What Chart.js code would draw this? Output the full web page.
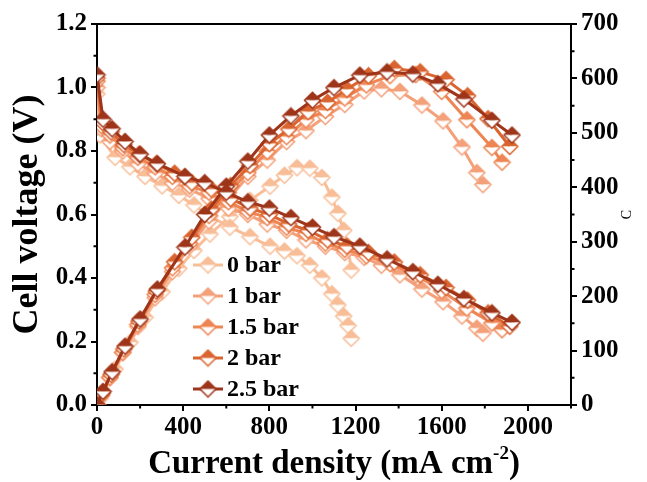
<!DOCTYPE html>
<html><head><meta charset="utf-8">
<script src="https://cdn.jsdelivr.net/npm/chart.js@4/dist/chart.umd.min.js"></script>
<style>html,body{margin:0;padding:0;background:#fff}#wrap{width:647px;height:482px;position:relative}</style>
</head><body><div id="wrap"><canvas id="c" width="647" height="482"></canvas></div>
<script>
// ---- data ----
const seriesNames = ['0 bar', '1 bar', '1.5 bar', '2 bar', '2.5 bar'];
const xTicks = [0, 400, 800, 1200, 1600, 2000];
const yTicks = [0, 0.2, 0.4, 0.6, 0.8, 1.0, 1.2];
const y1Ticks = [0, 100, 200, 300, 400, 500, 600, 700];

const current0 = [0, 14, 84, 153, 223, 302, 380, 450, 524, 617, 710, 803, 870, 928, 988, 1044, 1090, 1118, 1145, 1165, 1180];
const voltage0 = [0.98, 0.85, 0.78, 0.75, 0.72, 0.69, 0.66, 0.63, 0.595, 0.56, 0.53, 0.50, 0.485, 0.47, 0.44, 0.40, 0.35, 0.315, 0.28, 0.25, 0.21];
const power0   = [0, 12, 66, 115, 161, 208, 251, 284, 314, 346, 376, 402, 422, 436, 435, 418, 382, 352, 321, 291, 248];

const current1 = [0, 20, 60, 120, 190, 270, 350, 430, 520, 610, 700, 790, 880, 970, 1060, 1150, 1240, 1320, 1406, 1508, 1606, 1694, 1763, 1791];
const voltage1 = [1.00, 0.87, 0.83, 0.80, 0.76, 0.73, 0.70, 0.68, 0.65, 0.62, 0.60, 0.57, 0.55, 0.52, 0.50, 0.48, 0.465, 0.44, 0.41, 0.365, 0.325, 0.28, 0.242, 0.226];
const power1   = [0, 17, 50, 96, 144, 197, 245, 292, 338, 378, 420, 450, 484, 504, 530, 552, 577, 581, 576, 551, 522, 474, 427, 405];

const current15 = [0, 20, 60, 120, 190, 270, 350, 430, 520, 610, 700, 790, 880, 970, 1060, 1150, 1250, 1360, 1480, 1600, 1717, 1833, 1880];
const voltage15 = [1.02, 0.88, 0.85, 0.81, 0.78, 0.75, 0.72, 0.69, 0.67, 0.64, 0.61, 0.59, 0.56, 0.54, 0.51, 0.49, 0.47, 0.445, 0.41, 0.36, 0.305, 0.258, 0.237];
const power15   = [0, 18, 51, 97, 148, 203, 252, 297, 348, 390, 427, 466, 493, 524, 541, 564, 588, 605, 607, 576, 524, 473, 446];

const current2 = [0, 25, 65, 125, 195, 275, 360, 440, 530, 620, 710, 800, 890, 980, 1070, 1160, 1260, 1380, 1500, 1620, 1720, 1815, 1916];
const voltage2 = [1.03, 0.89, 0.86, 0.82, 0.79, 0.76, 0.73, 0.70, 0.68, 0.65, 0.62, 0.60, 0.57, 0.55, 0.52, 0.50, 0.48, 0.45, 0.41, 0.37, 0.33, 0.29, 0.248];
const power2   = [0, 22, 56, 103, 154, 209, 263, 308, 360, 403, 440, 480, 507, 539, 556, 580, 605, 618, 612, 598, 568, 526, 475];

const current25 = [0, 28, 70, 130, 200, 280, 408, 500, 600, 700, 800, 900, 1000, 1100, 1220, 1346, 1466, 1582, 1703, 1833, 1926];
const voltage25 = [1.04, 0.90, 0.87, 0.83, 0.79, 0.76, 0.72, 0.70, 0.67, 0.64, 0.62, 0.59, 0.56, 0.53, 0.50, 0.46, 0.42, 0.38, 0.335, 0.29, 0.26];
const power25   = [0, 25, 61, 108, 158, 213, 290, 350, 402, 448, 496, 531, 560, 583, 606, 612, 608, 590, 562, 523, 496];

const currents = [current0, current1, current15, current2, current25];
const voltages = [voltage0, voltage1, voltage15, voltage2, voltage25];
const powers = [power0, power1, power15, power2, power25];

// ---- styles ----
const colors = ['#F8BE98', '#F4A07A', '#EE8553', '#DA6530', '#9E351A'];
const FONT = "'Liberation Serif', 'Times New Roman', serif";

function makeMarker(color) {
  const r = 8, s = 2 * r + 3, c = s / 2;
  const cv = document.createElement('canvas');
  cv.width = s; cv.height = s;
  const g = cv.getContext('2d');
  g.beginPath(); g.moveTo(c - r, c); g.lineTo(c, c - r); g.lineTo(c + r, c); g.closePath();
  g.fillStyle = color; g.fill();
  g.beginPath(); g.moveTo(c - r, c); g.lineTo(c + r, c); g.lineTo(c, c + r); g.closePath();
  g.fillStyle = '#fff'; g.fill();
  g.beginPath(); g.moveTo(c, c - r); g.lineTo(c + r, c); g.lineTo(c, c + r); g.lineTo(c - r, c); g.closePath();
  g.strokeStyle = color; g.lineWidth = 1.5; g.stroke();
  return cv;
}
const markers = colors.map(makeMarker);

const datasets = [];
seriesNames.forEach((name, i) => {
  const pol = currents[i].map((x, k) => ({ x: x, y: voltages[i][k] }));
  const pow = currents[i].map((x, k) => ({ x: x, y: powers[i][k] }));
  const common = { borderColor: colors[i], backgroundColor: colors[i], borderWidth: 3,
    pointStyle: markers[i], pointRadius: 8, tension: 0, order: 4 - i, fill: false };
  datasets.push(Object.assign({ label: name, data: pol, yAxisID: 'y' }, common));
  datasets.push(Object.assign({ label: name + ' P', data: pow, yAxisID: 'y1' }, common));
});

const decor = {
  id: 'decor',
  afterDraw(chart) {
    const ctx = chart.ctx, a = chart.chartArea;
    const sx = chart.scales.x, sy = chart.scales.y, sy1 = chart.scales.y1;
    ctx.save();
    ctx.strokeStyle = '#000'; ctx.lineWidth = 2;
    // top frame
    ctx.beginPath(); ctx.moveTo(a.left - 1, a.top); ctx.lineTo(a.right + 1, a.top); ctx.stroke();
    // minor ticks
    ctx.beginPath();
    for (let v = 200; v <= 2200; v += 400) { const p = sx.getPixelForValue(v); ctx.moveTo(p, a.bottom); ctx.lineTo(p, a.bottom + 3.5); }
    for (let v = 0.1; v < 1.2; v += 0.2) { const p = sy.getPixelForValue(v); ctx.moveTo(a.left, p); ctx.lineTo(a.left - 3.5, p); }
    for (let v = 50; v < 700; v += 100) { const p = sy1.getPixelForValue(v); ctx.moveTo(a.right, p); ctx.lineTo(a.right + 3.5, p); }
    ctx.stroke();
    // x title with superscript
    ctx.fillStyle = '#000';
    ctx.textBaseline = 'alphabetic';
    const big = 'bold 33px ' + FONT, small = 'bold 19px ' + FONT;
    const t1 = 'Current density (mA cm', t2 = '-2', t3 = ')';
    ctx.font = big; const w1 = ctx.measureText(t1).width, w3 = ctx.measureText(t3).width;
    ctx.font = small; const w2 = ctx.measureText(t2).width;
    let x0 = (a.left + a.right) / 2 - (w1 + w2 + w3) / 2;
    const by = 473;
    ctx.font = big; ctx.fillText(t1, x0, by);
    ctx.font = small; ctx.fillText(t2, x0 + w1, by - 14);
    ctx.font = big; ctx.fillText(t3, x0 + w1 + w2, by);
    // y title
    ctx.save(); ctx.translate(28, (a.top + a.bottom) / 2); ctx.rotate(-Math.PI / 2);
    ctx.textAlign = 'center'; ctx.textBaseline = 'middle'; ctx.font = 'bold 36px ' + FONT;
    ctx.fillText('Cell voltage (V)', 0, 0); ctx.restore();
    // right title
    ctx.save(); ctx.translate(627, (a.top + a.bottom) / 2); ctx.rotate(-Math.PI / 2);
    ctx.textAlign = 'center'; ctx.textBaseline = 'middle'; ctx.font = '14px ' + FONT;
    ctx.fillText('C', 0, 0); ctx.restore();
    // legend
    const ly = [265, 296, 327, 358, 389];
    seriesNames.forEach((name, i) => {
      ctx.strokeStyle = colors[i]; ctx.lineWidth = 3;
      ctx.beginPath(); ctx.moveTo(193, ly[i]); ctx.lineTo(223, ly[i]); ctx.stroke();
      const m = markers[i]; ctx.drawImage(m, 208 - m.width / 2, ly[i] - m.height / 2);
      ctx.fillStyle = '#000'; ctx.font = 'bold 24px ' + FONT; ctx.textAlign = 'left'; ctx.textBaseline = 'middle';
      ctx.fillText(name, 227, ly[i] + 1);
    });
    ctx.restore();
  }
};

const tickFont = { family: FONT, size: 25, weight: 'bold' };
new Chart(document.getElementById('c'), {
  type: 'line',
  data: { datasets },
  options: {
    responsive: false, animation: false, devicePixelRatio: 1,
    layout: { padding: { top: 24, left: 0, right: 0, bottom: 0 } },
    plugins: { legend: { display: false }, tooltip: { enabled: false } },
    scales: {
      x: { type: 'linear', min: 0, max: 2200,
        afterBuildTicks: s => { s.ticks = xTicks.map(v => ({ value: v })); },
        afterFit: s => { s.height = 77; },
        ticks: { font: tickFont, color: '#000', padding: 2, maxRotation: 0, autoSkip: false, callback: v => String(v) },
        grid: { drawOnChartArea: false, drawTicks: true, tickLength: 6, color: '#000', lineWidth: 2 },
        border: { color: '#000', width: 2 } },
      y: { type: 'linear', position: 'left', min: 0, max: 1.2,
        afterBuildTicks: s => { s.ticks = yTicks.map(v => ({ value: v })); },
        afterFit: s => { s.width = 97; },
        ticks: { font: tickFont, color: '#000', padding: 4, callback: v => Number(v).toFixed(1), autoSkip: false },
        grid: { drawOnChartArea: false, drawTicks: true, tickLength: 6, color: '#000', lineWidth: 2 },
        border: { color: '#000', width: 2 } },
      y1: { type: 'linear', position: 'right', min: 0, max: 700,
        afterBuildTicks: s => { s.ticks = y1Ticks.map(v => ({ value: v })); },
        afterFit: s => { s.width = 76; },
        ticks: { font: tickFont, color: '#000', padding: 4, autoSkip: false, callback: v => String(v) },
        grid: { drawOnChartArea: false, drawTicks: true, tickLength: 6, color: '#000', lineWidth: 2 },
        border: { color: '#000', width: 2 } }
    }
  },
  plugins: [decor]
});
</script></body></html>
